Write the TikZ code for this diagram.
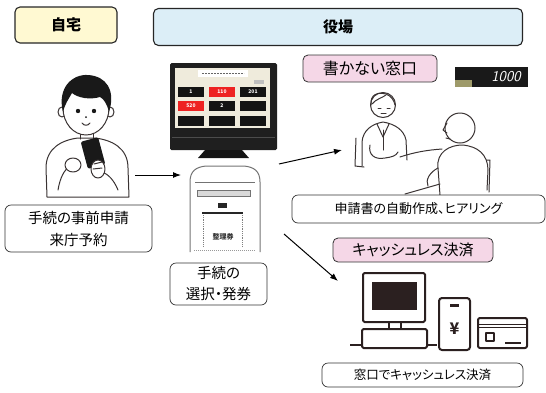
\documentclass[tikz,border=0pt]{standalone}
\usepackage{fontspec}
\setmainfont{Noto Sans CJK JP}[RawFeature=+palt]
\usetikzlibrary{arrows.meta}

\definecolor{homefill}{HTML}{FFF9D2}
\definecolor{officefill}{HTML}{DCEEF7}
\definecolor{tagfill}{HTML}{F5D7E7}
\definecolor{inkline}{HTML}{3A3333}
\definecolor{panel}{HTML}{EFEBDC}
\definecolor{callred}{HTML}{EE2222}
\definecolor{devline}{HTML}{2B2020}

\tikzset{
  header/.style={draw=black!85, line width=1.1pt, rounded corners=5pt, inner sep=0pt,
    font=\bfseries\fontsize{15}{18}\selectfont},
  tag/.style={draw=black!80, line width=0.8pt, rounded corners=5pt, fill=tagfill, inner sep=0pt},
  caption/.style={draw=black!80, line width=0.7pt, rounded corners=6pt, fill=white,
    align=center, inner sep=0pt, font=\fontsize{13}{17}\selectfont},
  art/.style={draw=inkline, line width=1pt, line cap=round, line join=round},
  dev/.style={draw=devline, line width=2pt, line join=round},
  flow/.style={-{Latex[length=8pt,width=6pt]}, line width=1pt},
}

\begin{document}
\begin{tikzpicture}[x=1pt,y=-1pt]
        \useasboundingbox (0,0) rectangle (546,392);

        % headers
        \node[header, fill=homefill, minimum width=102pt, minimum height=36pt] (home) at (66,25) {自宅};
        \node[header, fill=officefill, minimum width=369pt, minimum height=37pt] (office) at (338,27) {役場};

        % person with smartphone
        \draw[art, fill=white] (47,197) -- (46,168) .. controls (46,148) and (62,140) .. (78,138) -- (95,138)
            .. controls (112,140) and (128,148) .. (128,168) -- (129,197) -- cycle;
        \draw[art] (80,131) -- (80,139);
        \draw[art] (93,131) -- (93,139);
        \draw[art, fill=white] (62,112) ellipse[x radius=4pt, y radius=5pt];
        \draw[art, fill=white] (110,112) ellipse[x radius=4pt, y radius=5pt];
        \draw[art, fill=white] (86,108) ellipse[x radius=23pt, y radius=27pt];
        \fill[black!90] (63,112) .. controls (57,88) and (72,74) .. (88,75) .. controls (106,76) and (116,90) .. (109,112)
            .. controls (107,104) and (104,99) .. (100,97) .. controls (90,100) and (78,98) .. (72,93)
            .. controls (68,100) and (65,104) .. (63,112) -- cycle;
        \fill[black!90] (78,111) circle[radius=2.2pt];
        \fill[black!90] (94,111) circle[radius=2.2pt];
        \fill[black!90] (86,117) circle[radius=1pt];
        \draw[art] (82,123) .. controls (84,126) and (88,126) .. (90,123);
        \draw[art] (58,190) .. controls (60,178) and (64,170) .. (70,166);
        \draw[art] (118,190) .. controls (114,180) and (108,174) .. (102,172);
        \fill[black!90, rotate around={15:(93,153)}, rounded corners=2pt] (84,139) rectangle (102,167);
        \draw[art, fill=white] (73,165) ellipse[x radius=8pt, y radius=7pt];
        \draw[art, fill=white] (98,169) ellipse[x radius=7pt, y radius=9pt];
        \draw[art] (94,164) -- (102,162);
        \draw[art] (93,169) -- (102,168);
        \coordinate (user) at (135,175);

        % display board
        \fill[black!88, rounded corners=1.5pt] (170,63) rectangle (277,150);
        \fill[panel] (175,68) rectangle (270,128);
        \fill[white] (198,70) rectangle (248,77);
        \draw[black!60, line width=1.5pt, dash pattern=on 2pt off 1pt] (202,73.5) -- (244,73.5);
        \fill[black!25] (254,80) rectangle (264,84);
        \foreach \y in {87,101,116}
            \foreach \x in {178,209,240}
                \fill[black!92] (\x,\y) rectangle +(26,10);
        \fill[callred] (209,87) rectangle +(26,10);
        \fill[callred] (178,101) rectangle +(26,10);
        \foreach \x/\y/\n in {191/92/1, 222/92/110, 253/92/201, 191/106/520, 222/106/2}
            \node[white, font=\bfseries\fontsize{5}{5}\selectfont, inner sep=0pt] at (\x,\y) {\n};
        \draw[black!70, line width=0.5pt] (172,137) -- (275,137);
        \fill[black!92] (205,150) -- (242,150) -- (249,158) -- (198,158) -- cycle;

        % ticket machine
        \draw[black!55, line width=1pt] (190,252) -- (190,182) .. controls (190,171) and (196,167) .. (206,166)
            -- (244,166) .. controls (254,167) and (260,171) .. (260,182) -- (260,252);
        \draw[black!55, line width=0.8pt] (195,182) -- (255,182);
        \draw[black!55, line width=0.8pt, fill=black!15] (197,190) rectangle (250,196);
        \fill[black!85] (218,203) rectangle (227,208);
        \draw[black!85, line width=2pt] (202,213) -- (243,213);
        \draw[black!50, densely dotted, line width=0.8pt] (203,215) -- (203,247);
        \draw[black!50, densely dotted, line width=0.8pt] (242,215) -- (242,247);
        \node[black!80, font=\bfseries\fontsize{7}{7}\selectfont, inner sep=0pt] (ticket) at (223,237) {整理券};
        \draw[black!40, densely dotted, line width=1pt] (194,250) -- (256,250);
        \coordinate (kioskL) at (181,175);
        \coordinate (kioskT) at (279,164);
        \coordinate (kioskB) at (284,234);

        \node[caption, minimum width=147pt, minimum height=47pt, font=\fontsize{14.5}{22}\selectfont] (pre) at (78.5,228.5) {手続の事前申請\\来庁予約};
        \node[caption, minimum width=97pt, minimum height=42pt, font=\fontsize{14.5}{21}\selectfont] (issue) at (218.5,284) {手続の\\選択・発券};

        % counter without forms
        \node[tag, minimum width=134pt, minimum height=27pt, font=\fontsize{16}{18}\selectfont] (window) at (370,68.5) {書かない窓口};
        \fill[black!90] (455,67) rectangle (528,87);
        \fill[black!45!olive!60] (455,80) rectangle (472,87);
        \node[white, font=\sffamily\itshape\fontsize{15}{15}\selectfont, inner sep=0pt] (counter) at (506,77) {1000};

        % staff
        \draw[art] (356,138) -- (355,166) -- (364,167);
        \draw[art, fill=white] (362,166) -- (362,142) .. controls (363,130) and (372,124) .. (383,122)
            .. controls (395,124) and (404,130) .. (406,140) -- (407,160);
        \draw[art, fill=white] (383,105) circle[radius=12.5pt];
        \draw[art] (371,105) .. controls (370,94) and (378,92) .. (386,94) .. controls (391,96) and (394,100) .. (395,105);
        \draw[art] (372,104) .. controls (376,99) and (382,98) .. (386,95);
        \draw[art] (378,108) -- (381,108);
        \draw[art] (387,108) -- (390,108);
        \draw[art] (381,113) -- (386,113);
        \draw[art] (377,124) -- (383,137) -- (389,124);
        \draw[art] (383,130) -- (383,150);
        \draw[art] (370,145) .. controls (368,155) and (375,160) .. (385,158) .. controls (392,157) and (396,156) .. (398,152);
        \draw[art] (400,157) .. controls (415,152) and (428,150) .. (442,149);
        % visitor
        \draw[art] (480,160) -- (490,160) -- (489,192);
        \draw[art, fill=white] (440,195) -- (438,168) .. controls (436,152) and (450,145) .. (462,145)
            .. controls (478,146) and (488,155) .. (488,170) -- (487,190);
        \draw[art, fill=white] (460,128) circle[radius=15pt];
        \draw[art] (447,123) -- (443,130) -- (447,133);
        \draw[art] (446,138) -- (450,139);
        \draw[art] (438,168) .. controls (430,172) and (425,180) .. (428,186);
        \draw[art] (405,194) -- (440,184);
        \coordinate (desk) at (342,150);

        \node[caption, minimum width=253pt, minimum height=28pt] (hearing) at (418.5,209) {申請書の自動作成、ヒアリング};

        % cashless payment
        \node[tag, minimum width=160pt, minimum height=24pt, font=\fontsize{15}{17}\selectfont] (cashless) at (413,250) {キャッシュレス決済};
        \draw[dev, fill=white, rounded corners=1.5pt] (363,273) rectangle (425,322);
        \fill[devline] (372,282) rectangle (417,310);
        \draw[dev] (389,322) rectangle (401,329);
        \draw[dev, fill=white, rounded corners=1.5pt] (362,329) rectangle (427,348);
        \draw[dev] (350,345) -- (362,345);
        \draw[dev] (427,345) -- (437,345);
        \draw[dev, fill=white, rounded corners=3pt] (439,298) rectangle (470,350);
        \fill[devline] (450,304) rectangle (459,307);
        \node[devline, font=\bfseries\fontsize{16}{16}\selectfont, inner sep=0pt] (yen) at (454.5,329) {¥};
        \draw[dev, fill=white, rounded corners=2pt] (478,318) rectangle (527,348);
        \draw[devline, line width=1pt] (479,324) -- (526,324);
        \draw[devline, line width=1pt] (479,327) -- (526,327);
        \draw[dev] (486,333) rectangle (494,341);
        \draw[dev] (505,343) -- (521,343);
        \coordinate (register) at (338,281);

        \node[caption, minimum width=201pt, minimum height=24pt, font=\fontsize{12.5}{15}\selectfont] (pay) at (422.5,375) {窓口でキャッシュレス決済};

        % flow
        \draw[flow] (user) -- (kioskL);
        \draw[flow] (kioskT) -- (desk);
        \draw[flow] (kioskB) -- (register);
\end{tikzpicture}
\end{document}
